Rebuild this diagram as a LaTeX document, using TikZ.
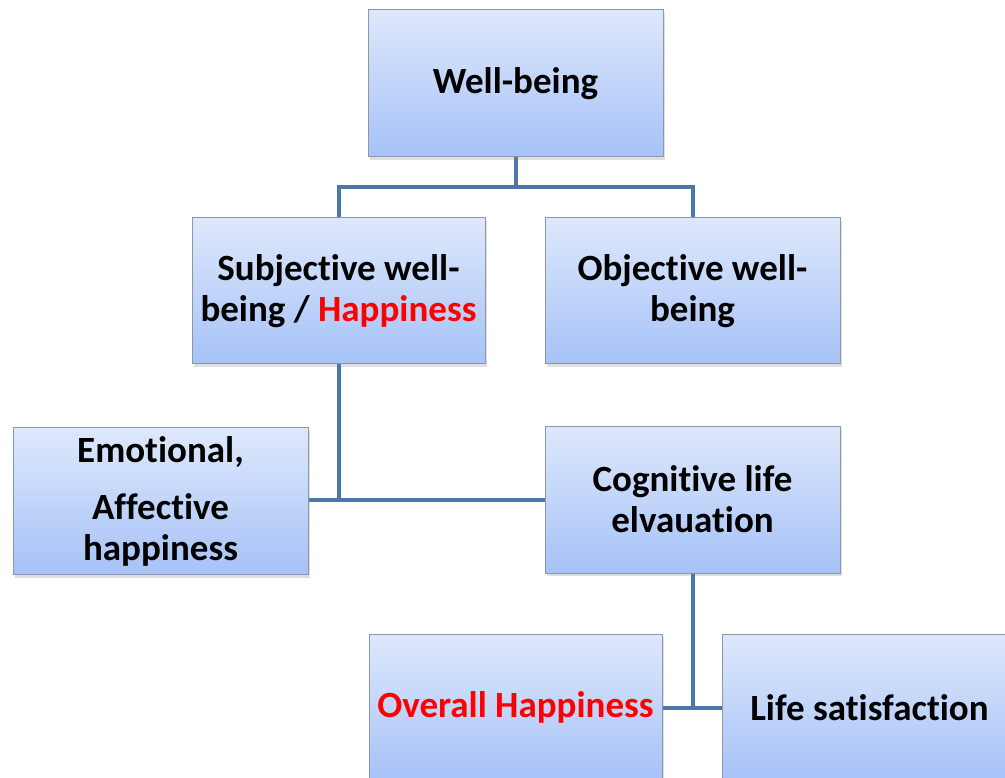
\documentclass[tikz,border=0pt]{standalone}
\usepackage{fontspec}
\setmainfont{Carlito}[Ligatures=NoCommon]
\usetikzlibrary{shadows}
\definecolor{boxtop}{HTML}{DEE8FB}
\definecolor{boxbot}{HTML}{A6C2F7}
\definecolor{boxline}{HTML}{8C98A8}
\definecolor{conn}{HTML}{4D76A9}
\definecolor{hired}{HTML}{FF0000}
\tikzset{
  box/.style={draw=boxline, line width=1pt, top color=boxtop, bottom color=boxbot,
    minimum width=295pt, minimum height=147pt, inner sep=0pt, align=center,
    font=\fontsize{37}{41}\selectfont\bfseries,
    drop shadow={opacity=0.25, shadow xshift=2pt, shadow yshift=-3pt}},
  conn/.style={draw=conn, line width=4pt}
}
\begin{document}
\begin{tikzpicture}[x=1pt,y=-1pt]
\useasboundingbox (0,0) rectangle (1005,778);
\clip (0,0) rectangle (1005,778);
\node[box] (wb) at (515.5,83.5) {Well-being};
\node[box, minimum width=293pt, minimum height=146pt] (sub) at (338.5,291) {Subjective well-\\being / \textcolor{hired}{Happiness}};
\node[box, minimum height=146pt] (obj) at (692.5,291) {Objective well-\\being};
\node[box] (emo) at (160.5,501) {Emotional,\\[16pt]Affective\\happiness};
\node[box] (cog) at (692.5,499.5) {Cognitive life\\elvauation};
\node[box, minimum width=293pt] (ov) at (515.5,707.5) {\textcolor{hired}{Overall Happiness}};
\node[box] (ls) at (869.5,707.5) {Life satisfaction};
\coordinate (j1) at (515.5,187);
\draw[conn] (wb.south) -- (j1);
\draw[conn] (sub.north) |- (j1) -| (obj.north);
\draw[conn] (sub.south) |- (emo.east |- cog.west);
\draw[conn] (sub.south) |- (cog.west);
\draw[conn] (cog.south) |- (ov.east);
\draw[conn] (cog.south) |- (ls.west);
\end{tikzpicture}
\end{document}
